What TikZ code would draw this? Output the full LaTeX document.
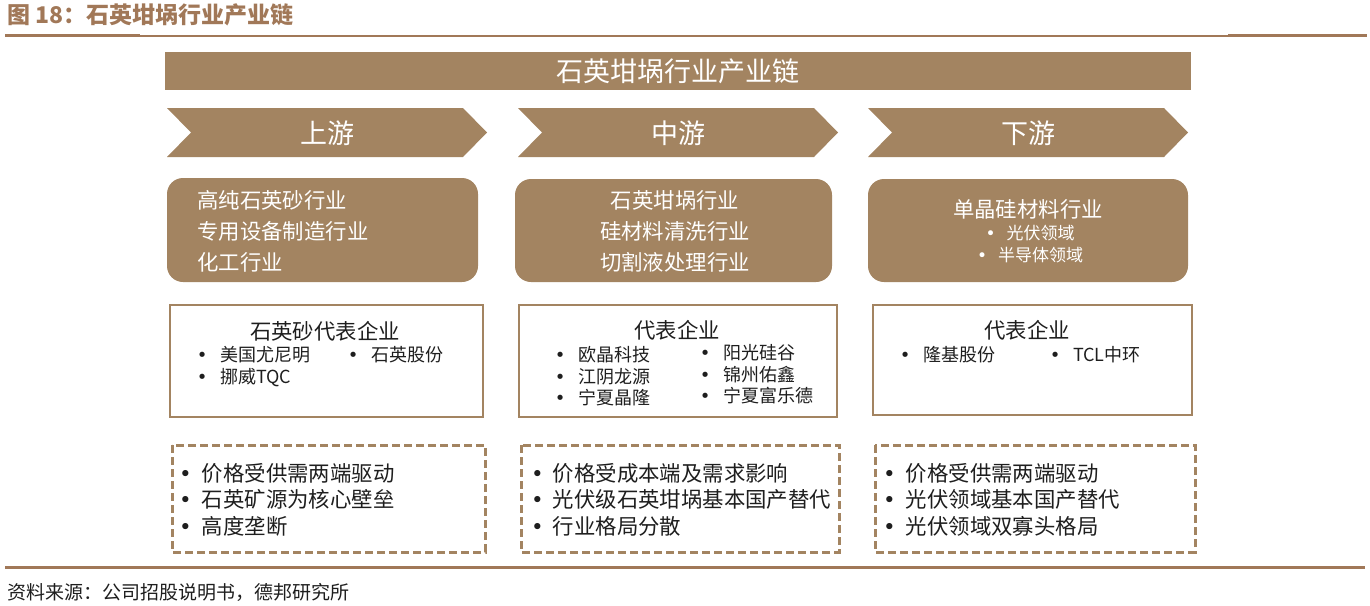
\documentclass[tikz,border=0pt]{standalone}
\usepackage{fontspec}
\setmainfont{Noto Sans CJK SC}
\newfontfamily\dotfont{DejaVu Sans}
\newcommand\itemdot[1]{{\dotfont •}\hspace{#1}}
\definecolor{chainfill}{RGB}{163,132,97}
\definecolor{chainrule}{RGB}{161,120,88}
\definecolor{chaintext}{RGB}{30,30,30}

\begin{document}
\begin{tikzpicture}[x=1pt,y=-1pt,
	txt/.style={inner sep=0pt, text=white},
	item/.style={inner sep=0pt, text=chaintext, align=left, anchor=west, font=\fontsize{18}{21.5}\selectfont},
	note/.style={item, font=\fontsize{21.4}{26.5}\selectfont},
	repbox/.style={draw=chainfill, line width=2pt},
	dashbox/.style={draw=chainfill, line width=3pt, dash pattern=on 8pt off 4pt}]
	\useasboundingbox (0,0) rectangle (1370,605);
	
	% header and rules
	\node[inner sep=0pt, anchor=west, text=chainrule, font=\bfseries\fontsize{23}{23}\selectfont] (fig) at (7,15) {图 18：石英坩埚行业产业链};
	\draw[chainrule, line width=1.5pt] (5,35.8)--(1365,35.8);
	\draw[chainrule, line width=3pt] (5,35.5)--(140,35.5)  (1228,35.5)--(1367,35.5);
	\draw[chainrule, line width=3pt] (5,567)--(1365,567);
	\node[inner sep=0pt, anchor=west, text=chaintext, font=\fontsize{19}{19}\selectfont] (src) at (7,592) {资料来源：公司招股说明书，德邦研究所};
	
	% title bar
	\fill[chainfill] (165,52) rectangle (1191,90);
	\node[txt, font=\fontsize{27}{27}\selectfont] (chain) at (678,71) {石英坩埚行业产业链};
	
	% chevrons
	\foreach \x/\name/\lbl in {167/up/上游, 518/mid/中游, 868/down/下游}{
		\fill[chainfill] (\x,108)--(\x+296,108)--(\x+320,132.5)--(\x+296,157)--(\x,157)--(\x+24,132.5)--cycle;
		\node[txt, font=\fontsize{27}{27}\selectfont] (\name) at (\x+160,133) {\lbl};
	}
	
	% industries
	\fill[chainfill, rounded corners=16pt] (167,178) rectangle (478,282);
	\fill[chainfill, rounded corners=16pt] (515,179) rectangle (832,282);
	\fill[chainfill, rounded corners=16pt] (868,179) rectangle (1188,282);
	\node[txt, anchor=west, align=left, font=\fontsize{21.4}{31}\selectfont] (upind) at (197,231) {高纯石英砂行业\\专用设备制造行业\\化工行业};
	\node[txt, align=center, font=\fontsize{21.4}{31}\selectfont] (midind) at (675,231) {石英坩埚行业\\硅材料清洗行业\\切割液处理行业};
	\node[txt, font=\fontsize{21.4}{21.4}\selectfont] (downind) at (1028,209) {单晶硅材料行业};
	\node[txt, font=\fontsize{17}{17}\selectfont] (pv) at (1030,233) {\itemdot{11pt}光伏领域};
	\node[txt, font=\fontsize{17}{17}\selectfont] (semi) at (1030,255) {\itemdot{11pt}半导体领域};
	
	% representative firms
	\draw[repbox] (170,305) rectangle (483,417);
	\draw[repbox] (519,305) rectangle (837,417);
	\draw[repbox] (873,305) rectangle (1192,415);
	\node[inner sep=0pt, text=chaintext, font=\fontsize{21.4}{21.4}\selectfont] (upfirm) at (325,331) {石英砂代表企业};
	\node[inner sep=0pt, text=chaintext, font=\fontsize{21.4}{21.4}\selectfont] (midfirm) at (677,330) {代表企业};
	\node[inner sep=0pt, text=chaintext, font=\fontsize{21.4}{21.4}\selectfont] (downfirm) at (1027,330) {代表企业};
	\node[item] (upa) at (196.7,366.5) {\itemdot{12.5pt}美国尤尼明\\\itemdot{12.5pt}挪威TQC};
	\node[item] (upb) at (347.7,355) {\itemdot{12.5pt}石英股份};
	\node[item] (mida) at (554.7,376.5) {\itemdot{12.5pt}欧晶科技\\\itemdot{12.5pt}江阴龙源\\\itemdot{12.5pt}宁夏晶隆};
	\node[item] (midb) at (699.7,374.5) {\itemdot{12.5pt}阳光硅谷\\\itemdot{12.5pt}锦州佑鑫\\\itemdot{12.5pt}宁夏富乐德};
	\node[item] (downa) at (899.7,355) {\itemdot{12.5pt}隆基股份};
	\node[item] (downb) at (1049.7,355) {\itemdot{12.5pt}TCL中环};
	
	% features
	\draw[dashbox] (172,445) rectangle (485,552);
	\draw[dashbox] (521,445) rectangle (839,552);
	\draw[dashbox] (875,445) rectangle (1195,552);
	\node[note] (upnote) at (179,499.5) {\itemdot{10pt}价格受供需两端驱动\\\itemdot{10pt}石英矿源为核心壁垒\\\itemdot{10pt}高度垄断};
	\node[note] (midnote) at (531,499.5) {\itemdot{9pt}价格受成本端及需求影响\\\itemdot{9pt}光伏级石英坩埚基本国产替代\\\itemdot{9pt}行业格局分散};
	\node[note] (downnote) at (883,499.5) {\itemdot{10pt}价格受供需两端驱动\\\itemdot{10pt}光伏领域基本国产替代\\\itemdot{10pt}光伏领域双寡头格局};
\end{tikzpicture}
\end{document}
